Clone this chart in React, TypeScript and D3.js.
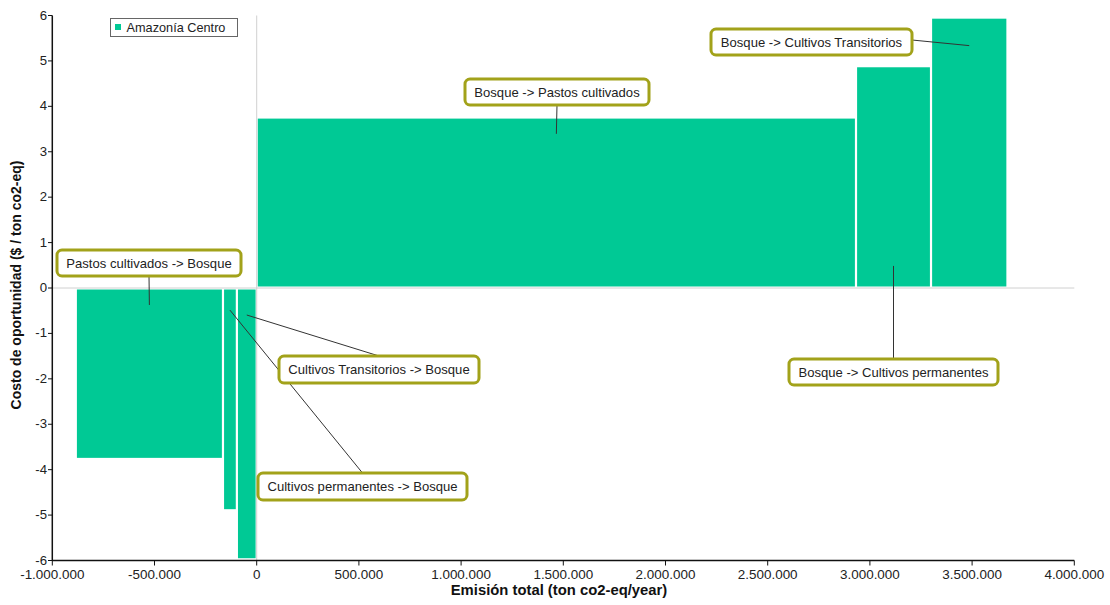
import React from "react";
import * as d3 from "d3";

const categories = [
  "Pastos cultivados -> Bosque",
  "Cultivos permanentes -> Bosque",
  "Cultivos Transitorios -> Bosque",
  "Bosque -> Pastos cultivados",
  "Bosque -> Cultivos permanentes",
  "Bosque -> Cultivos Transitorios",
];
const emissions = [-720000, -68000, -97000, 2932000, 367000, 374000];
const costs = [-3.74, -4.87, -5.95, 3.73, 4.86, 5.93];
const xTicks = [-1000000, -500000, 0, 500000, 1000000, 1500000, 2000000, 2500000, 3000000, 3500000, 4000000];
const yTicks = [-6, -5, -4, -3, -2, -1, 0, 1, 2, 3, 4, 5, 6];
const seriesName = "Amazonía Centro";

// layout for annotation boxes (pixels) and anchor fraction along the bar height
const annLayout = [
  { x: 57, y: 250, w: 184, h: 26, side: "bottom", frac: 0.1 },
  { x: 258, y: 473, w: 209, h: 27, side: "top", frac: 0.1 },
  { x: 279, y: 356, w: 200, h: 27, side: "top", frac: 0.1 },
  { x: 465, y: 79, w: 184, h: 26, side: "bottom", frac: 0.91 },
  { x: 789, y: 359, w: 209, h: 26, side: "top", frac: 0.1 },
  { x: 711, y: 29, w: 201, h: 26, side: "right", frac: 0.9 },
];

const W = 1110;
const H = 605;
const FONT = "'Liberation Sans', Arial, sans-serif";
const GREEN = "#00c995";
const OLIVE = "#a2a21a";

const locale = d3.formatLocale({ decimal: ",", thousands: ".", grouping: [3], currency: ["$", ""], minus: "-" });
const fmt = locale.format(",d");

function SText(props: {
  x: number;
  y: number;
  sx: number;
  size: number;
  anchor?: "start" | "middle" | "end";
  bold?: boolean;
  fill?: string;
  children: React.ReactNode;
}) {
  return (
    <text
      transform={`translate(${props.x},${props.y}) scale(${props.sx},1)`}
      fontSize={props.size}
      fontWeight={props.bold ? "bold" : "normal"}
      textAnchor={props.anchor || "start"}
      fill={props.fill || "#222"}
    >
      {props.children}
    </text>
  );
}

export default function App() {
  const x = d3.scaleLinear().domain([-1000000, 4000000]).range([52.3, 1074.3]);
  const y = d3.scaleLinear().domain([-6, 6]).range([560.5, 15.5]);

  // cumulative extents: negatives grow leftwards from 0 (last first), positives rightwards
  const extents: { x0: number; x1: number }[] = new Array(categories.length);
  let negCum = 0;
  for (let i = categories.length - 1; i >= 0; i--) {
    if (emissions[i] < 0) {
      extents[i] = { x0: negCum + emissions[i], x1: negCum };
      negCum += emissions[i];
    }
  }
  let posCum = 0;
  for (let i = 0; i < categories.length; i++) {
    if (emissions[i] >= 0) {
      extents[i] = { x0: posCum, x1: posCum + emissions[i] };
      posCum += emissions[i];
    }
  }

  const gapX = 1.1;
  const gapZero = 1.5;

  return (
    <svg width={W} height={H} style={{ position: "absolute", left: 0, top: 0, background: "#fff" }} fontFamily={FONT}>
      {/* zero lines */}
      <line x1={x(-1000000)} x2={x(4000000)} y1={y(0)} y2={y(0)} stroke="#d0d0d0" strokeWidth={1} />
      <line x1={x(0)} x2={x(0)} y1={y(6)} y2={y(-6)} stroke="#d0d0d0" strokeWidth={1} />

      {/* bars */}
      {categories.map((c, i) => {
        const e = extents[i];
        const v = costs[i];
        const x0 = x(e.x0) + gapX;
        const x1 = x(e.x1) - gapX;
        const yTop = v >= 0 ? y(v) : y(0) + gapZero;
        const yBot = v >= 0 ? y(0) - gapZero : y(v);
        return <rect key={c} x={x0} width={x1 - x0} y={yTop} height={yBot - yTop} fill={GREEN} />;
      })}

      {/* axes */}
      <line x1={52.3} x2={52.3} y1={y(6)} y2={y(-6) + 0.5} stroke="#111" strokeWidth={1.5} />
      <line x1={52.3} x2={x(4000000)} y1={y(-6)} y2={y(-6)} stroke="#111" strokeWidth={1.5} />
      {yTicks.map((t) => (
        <g key={"y" + t}>
          <line x1={48} x2={52.3} y1={y(t)} y2={y(t)} stroke="#111" strokeWidth={1} />
          <SText x={47} y={y(t) + 4} sx={1.1} size={12} anchor="end">
            {t}
          </SText>
        </g>
      ))}
      {xTicks.map((t) => (
        <g key={"x" + t}>
          <line x1={x(t)} x2={x(t)} y1={y(-6)} y2={y(-6) + 5} stroke="#111" strokeWidth={1} />
          <SText x={x(t)} y={579} sx={1.12} size={12} anchor="middle">
            {fmt(t)}
          </SText>
        </g>
      ))}

      {/* axis titles */}
      <SText x={559} y={595} sx={1.06} size={14} bold anchor="middle" fill="#111">
        Emisión total (ton co2-eq/year)
      </SText>
      <text
        transform={`translate(21,${y(0) - 3}) rotate(-90)`}
        fontSize={14}
        fontWeight="bold"
        textAnchor="middle"
        fill="#111"
      >
        Costo de oportunidad ($ / ton co2-eq)
      </text>

      {/* legend */}
      <rect x={110.5} y={18.5} width={127} height={18} fill="#fff" stroke="#666" strokeWidth={1} />
      <rect x={115} y={24} width={6} height={6} fill={GREEN} />
      <SText x={126.5} y={32} sx={1.06} size={12}>
        {seriesName}
      </SText>

      {/* annotation leader lines */}
      {categories.map((c, i) => {
        const a = annLayout[i];
        const e = extents[i];
        const ax = x((e.x0 + e.x1) / 2);
        const ay = y(costs[i] * a.frac);
        let sx = a.x + a.w / 2;
        let sy = a.y + a.h / 2;
        if (a.side === "top") sy = a.y;
        else if (a.side === "bottom") sy = a.y + a.h;
        else if (a.side === "right") {
          sx = a.x + a.w;
          sy = a.y + a.h / 2 - 2;
        }
        return <line key={"l" + c} x1={sx} y1={sy} x2={ax} y2={ay} stroke="#333" strokeWidth={1} />;
      })}

      {/* annotation boxes */}
      {categories.map((c, i) => {
        const a = annLayout[i];
        return (
          <g key={"b" + c}>
            <rect x={a.x} y={a.y} width={a.w} height={a.h} rx={5} ry={5} fill="#fff" stroke={OLIVE} strokeWidth={3} />
            <SText x={a.x + a.w / 2} y={a.y + a.h / 2 + 4.5} sx={1.09} size={12} anchor="middle">
              {c}
            </SText>
          </g>
        );
      })}
    </svg>
  );
}
